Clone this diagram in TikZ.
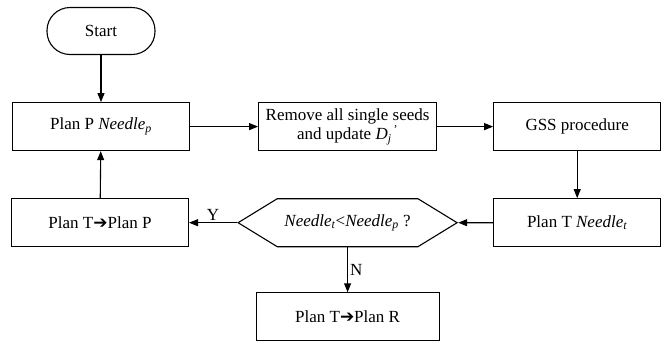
\documentclass[tikz,border=0pt]{standalone}
\usepackage{fontspec}
\setmainfont{Liberation Serif}
\newfontfamily\symfont{DejaVu Sans}
\usetikzlibrary{shapes.symbols, arrows.meta, positioning}
\newcommand{\planarrow}{{\symfont\char"2794}}
\tikzset{
  procbox/.style={draw, line width=1.1pt, minimum width=177pt, minimum height=48pt, font=\fontsize{17}{19}\selectfont, align=center, inner sep=2pt},
  termnode/.style={procbox, rounded corners=23pt, minimum width=108pt, minimum height=47pt},
  condnode/.style={procbox, shape=signal, signal to=west and east, signal pointer angle=63, minimum width=219pt},
  flow/.style={-{Triangle[length=9pt,width=7pt]}, line width=1.1pt},
  flowlabel/.style={font=\fontsize{17}{19}\selectfont, inner sep=2pt},
}

\begin{document}
\begin{tikzpicture}[x=1pt, y=1pt, node distance=47pt]
  \useasboundingbox (0,0) rectangle (662,-341);
  \node[termnode] (start) at (101,-31) {Start};
  \node[procbox, below=of start] (planp) {Plan P \textit{Needle}\textsubscript{\textit{p}}};
  \node[procbox, minimum width=178pt, right=68pt of planp] (remove) {Remove all single seeds\\[0pt]and update \textit{D}\textsubscript{\textit{j}}\textsuperscript{\,'}};
  \node[procbox, minimum width=167pt, right=56pt of remove] (gss) {GSS procedure};
  \node[procbox, minimum width=167pt, below=of gss] (plant) {Plan T \textit{Needle}\textsubscript{\textit{t}}};
  \node[condnode, left=35pt of plant] (cond) {\textit{Needle}\textsubscript{\textit{t}}<\textit{Needle}\textsubscript{\textit{p}} ?};
  \node[procbox, left=48pt of cond] (ttop) {Plan T\planarrow Plan P};
  \node[procbox, minimum width=183pt, below=45pt of cond] (ttor) {Plan T\planarrow Plan R};
  \draw[flow] (start) -- (planp);
  \draw[flow] (planp) -- (remove);
  \draw[flow] (remove) -- (gss);
  \draw[flow] (gss) -- (plant);
  \draw[flow] (plant) -- (cond);
  \draw[flow] (cond.west) -- node[flowlabel, above] (ylab) {Y} (ttop.east);
  \draw[flow] (cond.south) -- node[flowlabel, right] (nlab) {N} (ttor.north);
  \draw[flow] (ttop) -- (planp);
\end{tikzpicture}
\end{document}
